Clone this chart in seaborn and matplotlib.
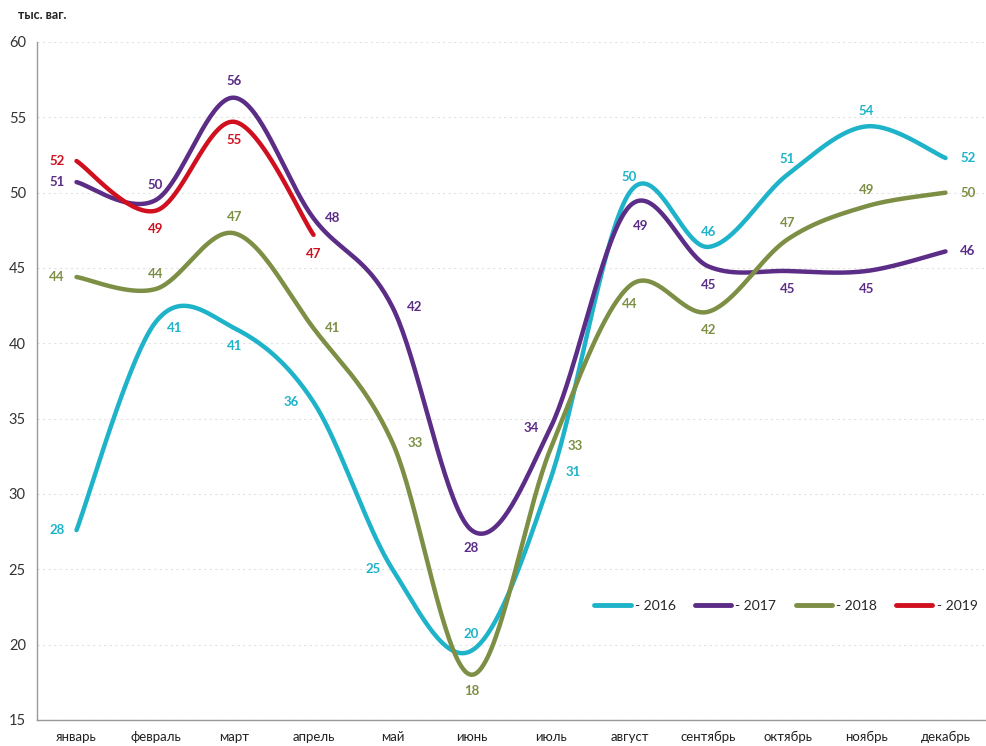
import numpy as np
import pandas as pd
import matplotlib
matplotlib.use('Agg')
import matplotlib.pyplot as plt
import seaborn as sns

# months and yearly series (thousand wagons)
months = ['январь', 'февраль', 'март', 'апрель', 'май', 'июнь',
          'июль', 'август', 'сентябрь', 'октябрь', 'ноябрь', 'декабрь']
v2016 = [27.6, 41.4, 41.0, 36.1, 25.0, 19.6, 31.0, 50.0, 46.4, 51.2, 54.4, 52.3]
v2017 = [50.7, 49.5, 56.3, 48.3, 42.4, 27.6, 34.4, 49.1, 45.1, 44.8, 44.8, 46.1]
v2018 = [44.4, 43.6, 47.3, 41.0, 33.4, 18.0, 33.0, 43.8, 42.1, 46.9, 49.1, 50.0]
v2019 = [52.1, 48.8, 54.7, 47.2]
years = ['2016', '2017', '2018', '2019']
series = [v2016, v2017, v2018, v2019]
colors = ['#1fb3c9', '#5b2d86', '#7d8f45', '#d0101f']

# label offsets in points (dx, dy) for each value label
offs = {
    '2016': [(-14, 0), (14, -4), (0, -13), (-16, 0), (-14, 0), (0, 12), (16, 5), (0, 11), (0, 11), (0, 11), (0, 11), (16, 0)],
    '2017': [(-14, 0), (0, 11), (0, 12), (14, 0), (16, 0), (0, -13), (-14, 0), (8, -14), (0, -13), (0, -13), (0, -13), (16, 0)],
    '2018': [(-14, 0), (0, 11), (0, 12), (14, 0), (16, 0), (0, -12), (18, 2), (0, -13), (0, -13), (0, 12), (0, 12), (16, 0)],
    '2019': [(-14, 0), (0, -13), (0, -13), (0, -14)],
}


def smooth(y, n=40):
    # excel-like bezier smoothing through every point
    x = np.arange(len(y), dtype=float)
    p = np.column_stack([x, np.array(y, dtype=float)])
    pts = []
    for i in range(len(p) - 1):
        p0 = p[i - 1] if i > 0 else p[i]
        p3 = p[i + 2] if i + 2 < len(p) else p[i + 1]
        c1 = p[i] + (p[i + 1] - p0) / 6
        c2 = p[i + 1] - (p3 - p[i]) / 6
        t = np.linspace(0, 1, n)[:, None]
        seg = ((1 - t) ** 3) * p[i] + 3 * ((1 - t) ** 2) * t * c1 + 3 * (1 - t) * t ** 2 * c2 + t ** 3 * p[i + 1]
        pts.append(seg if i == 0 else seg[1:])
    return np.vstack(pts)


frames = []
for yr, vals in zip(years, series):
    s = smooth(vals)
    frames.append(pd.DataFrame({'x': s[:, 0], 'y': s[:, 1], 'year': '- ' + yr, 'order': np.arange(len(s))}))
df = pd.concat(frames, ignore_index=True)

sns.set_style('white')
plt.rcParams['font.family'] = ['Lato', 'DejaVu Sans']

fig = plt.figure(figsize=(9.87, 7.46), dpi=100)
ax = fig.add_axes([0.0375, 0.0349, 0.9605, 0.9088])

sns.lineplot(data=df, x='x', y='y', hue='year', palette=colors, sort=False,
             estimator=None, units='year', linewidth=3.2, ax=ax)

for yr, vals, c in zip(years, series, colors):
    for i, v in enumerate(vals):
        dx, dy = offs[yr][i]
        ax.annotate(str(int(round(v))), (i, v), xytext=(dx, dy), textcoords='offset points',
                    ha='center', va='center', color=c, fontsize=9.5, fontweight='bold')

ax.set_xlim(-0.5, 11.5)
ax.set_ylim(15, 60)
ax.set_yticks(range(15, 61, 5))
ax.set_xticks(range(12))
ax.set_xticklabels(months, fontsize=9.5, color='#222222')
ax.set_xticks(np.arange(-0.5, 12, 1), minor=True)
ax.tick_params(axis='x', which='major', length=0, pad=8)
ax.tick_params(axis='x', which='minor', length=5, color='#999999')
ax.tick_params(axis='y', length=5, color='#999999', labelsize=10.5, labelcolor='#333333', pad=3)
ax.yaxis.grid(True, linestyle=(0, (2, 3)), color='#e2e2e2', linewidth=0.8)
ax.set_axisbelow(True)
for sp in ['top', 'right']:
    ax.spines[sp].set_visible(False)
for sp in ['left', 'bottom']:
    ax.spines[sp].set_color('#999999')
    ax.spines[sp].set_linewidth(1)
ax.set_xlabel('')
ax.set_ylabel('')

leg = ax.legend(loc='center', bbox_to_anchor=(0.79, 0.168), ncol=4, frameon=False,
                fontsize=10, handlelength=2.6, handletextpad=0.3, columnspacing=1.4)
for h in leg.get_lines():
    h.set_linewidth(3.5)

fig.text(0.018, 0.98, 'тыс. ваг.', fontsize=9, fontweight='bold', ha='left', va='center', color='#222222')

fig.savefig('out.png', dpi=100)
